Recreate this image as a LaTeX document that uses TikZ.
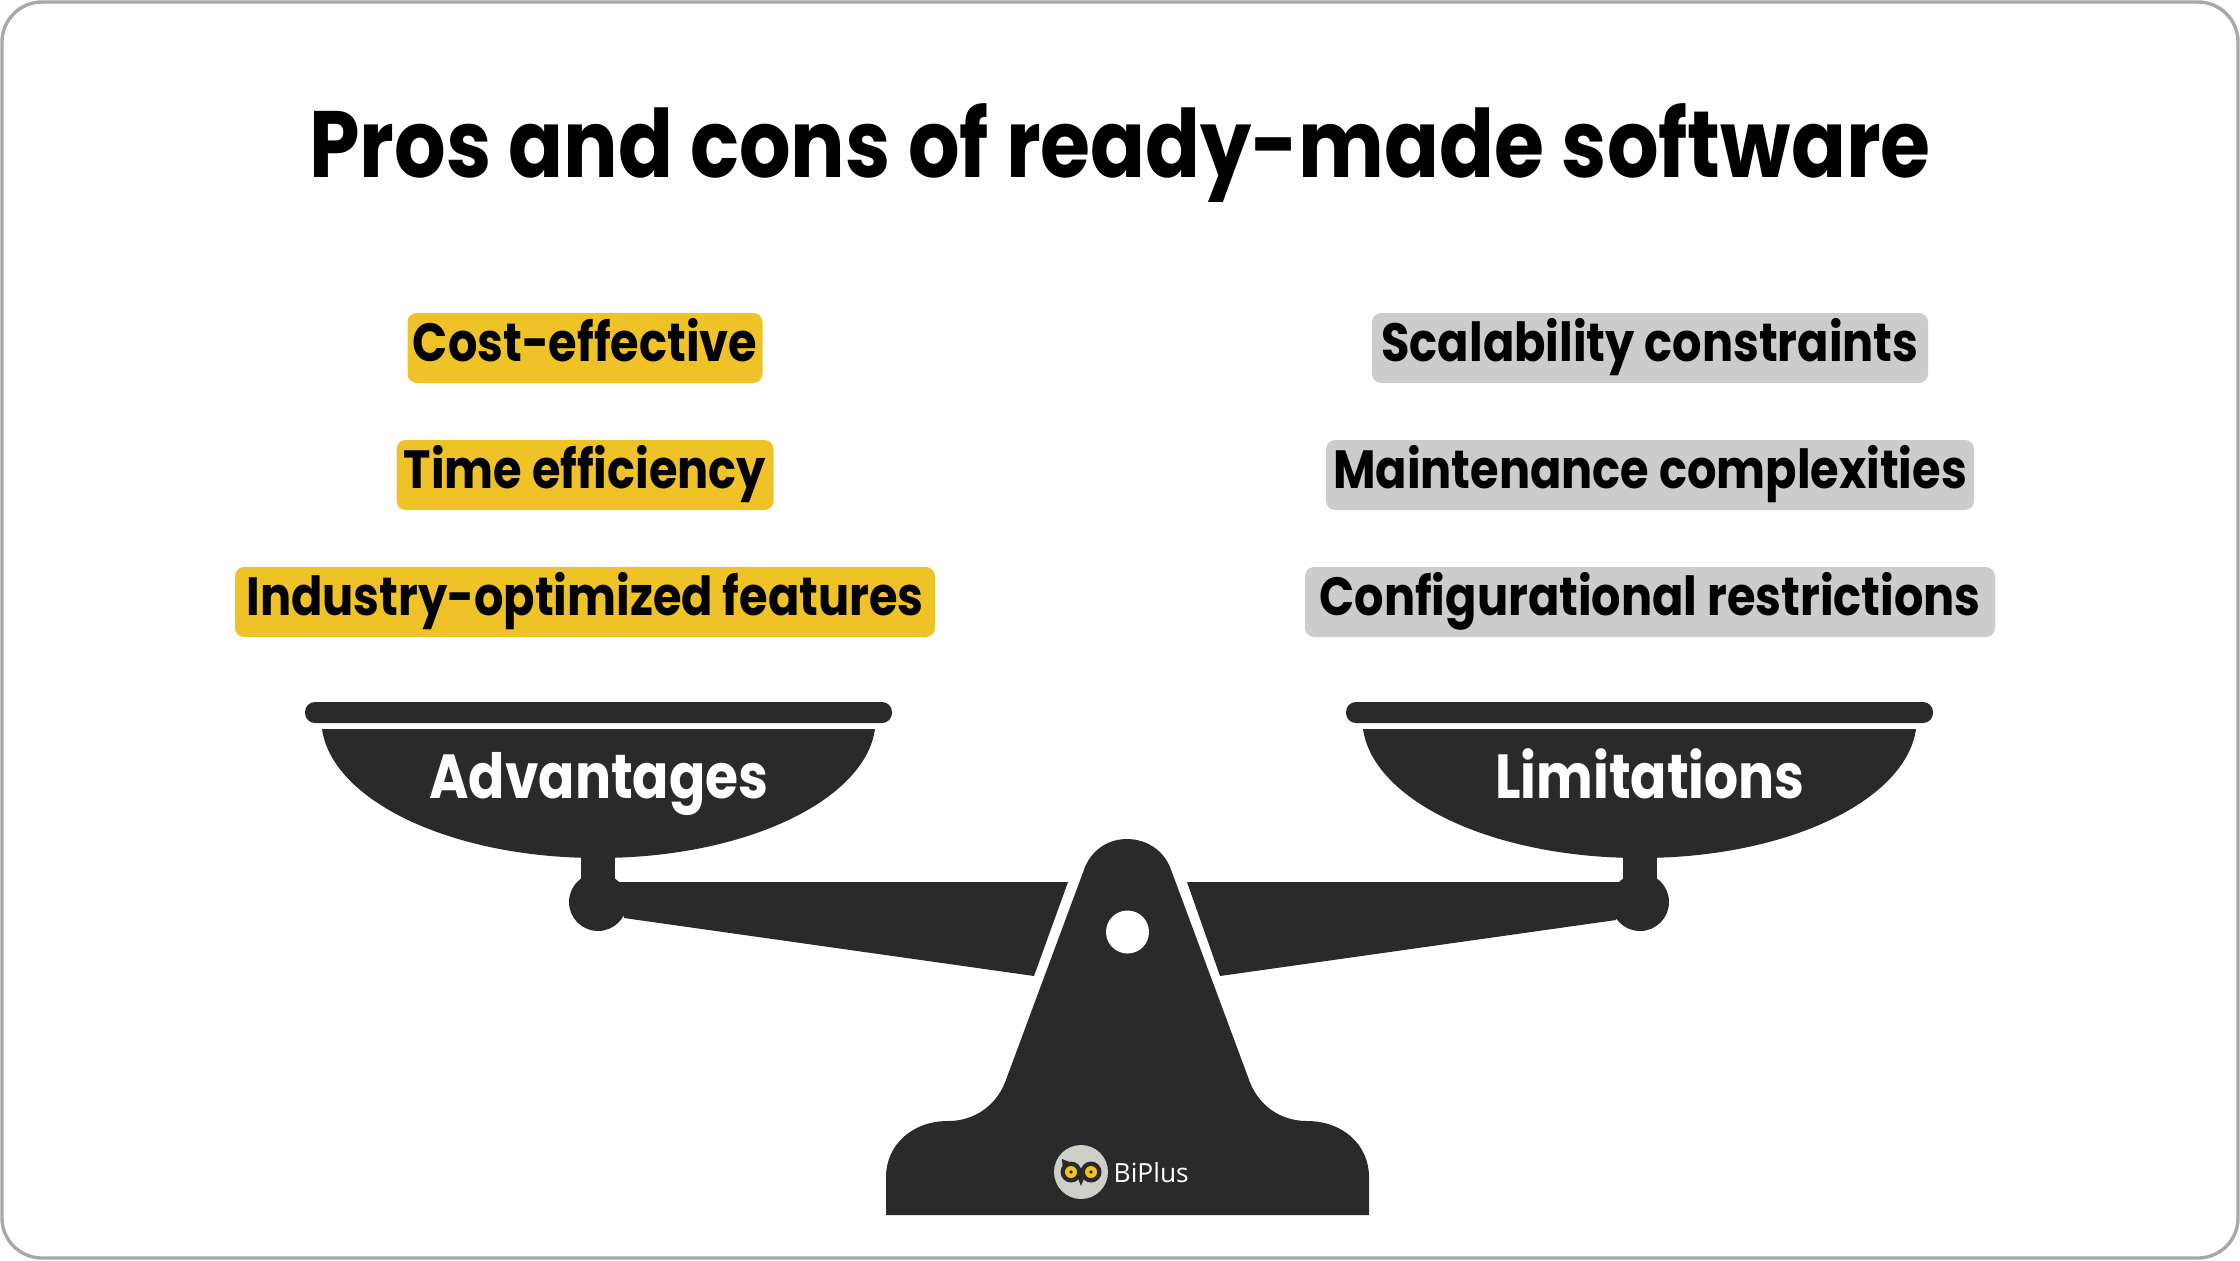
\documentclass[tikz,border=0pt]{standalone}
\usepackage{fontspec}
\newfontfamily\spart[FakeStretch=0.86]{Poppins}
\newfontfamily\logofont{Open Sans}
\definecolor{ink}{HTML}{2A2A2A}
\definecolor{goldbox}{HTML}{EFC327}
\definecolor{greybox}{HTML}{CCCCCC}
\definecolor{framegrey}{HTML}{A8A8A8}
\definecolor{logogrey}{HTML}{CFCFCA}
\tikzset{
  itemtext/.style={inner sep=0pt,rounded corners=2.6pt,text=black,align=center,
     font=\spart\bfseries\fontsize{15.3}{17}\selectfont,text height=11pt,text depth=3.4pt,minimum height=70*0.01cm},
  prosbox/.style={itemtext,fill=goldbox},
  consbox/.style={itemtext,fill=greybox},
  pantext/.style={inner sep=0pt,text=white,font=\spart\bfseries\fontsize{17.7}{19}\selectfont,text height=12pt,text depth=4pt}
}
\begin{document}
\begin{tikzpicture}[x=0.01cm,y=-0.01cm]
\useasboundingbox (0,0) rectangle (2240,1260);
\fill[white] (0,0) rectangle (2240,1260);
\draw[framegrey,line width=3.4*0.01cm,rounded corners=40*0.01cm] (2,2) rectangle (2238,1258);
% title
\node[inner sep=0pt,anchor=base,font=\spart\bfseries\fontsize{26.8}{30}\selectfont] (title) at (1120,177) {Pros and cons of ready-made software};
% items
\node[prosbox,minimum width=355*0.01cm] (p1) at (585,348) {Cost-effective};
\node[prosbox,minimum width=377*0.01cm] (p2) at (585,475) {Time efficiency};
\node[prosbox,minimum width=700*0.01cm] (p3) at (585,602) {Industry-optimized features};
\node[consbox,minimum width=556*0.01cm] (c1) at (1650,348) {Scalability constraints};
\node[consbox,minimum width=648*0.01cm] (c2) at (1650,475) {Maintenance complexities};
\node[consbox,minimum width=690*0.01cm] (c3) at (1650,602) {Configurational restrictions};
% left pan
\fill[ink,rounded corners=10*0.01cm] (305,702) rectangle (892,723);
\fill[ink] (322,729) .. controls (332,800) and (450,858) .. (598,858) .. controls (746,858) and (865,800) .. (875,729) -- cycle;
\fill[ink] (581,850) rectangle (615,885);
\fill[ink] (598,902) circle (29);
\fill[ink] (615,882) -- (1068,882) -- (1034,976) -- (624,918) -- cycle;
% right pan
\fill[ink,rounded corners=10*0.01cm] (1346,702) rectangle (1933,723);
\fill[ink] (1363,729) .. controls (1373,800) and (1491,858) .. (1640,858) .. controls (1788,858) and (1906,800) .. (1916,729) -- cycle;
\fill[ink] (1623,850) rectangle (1657,885);
\fill[ink] (1640,902) circle (29);
\fill[ink] (1625,882) -- (1187,882) -- (1220,976) -- (1616,920) -- cycle;
% stand
\fill[ink] (886,1215) -- (886,1177) .. controls (886,1145) and (912,1121) .. (948,1121)
  .. controls (975,1121) and (998,1105) .. (1007,1077) -- (1085,867)
  .. controls (1093,848) and (1110,839) .. (1127,839) .. controls (1144,839) and (1162,848) .. (1170,867)
  -- (1248,1077) .. controls (1257,1105) and (1280,1121) .. (1307,1121)
  .. controls (1343,1121) and (1369,1145) .. (1369,1177) -- (1369,1215) -- cycle;
\fill[white] (1127.5,932) circle (21.5);
% pan labels
\node[pantext] (adv) at (599,784) {Advantages};
\node[pantext] (lim) at (1650,784) {Limitations};
% logo
\fill[logogrey] (1081,1172) circle (27);
\fill[ink] (1071,1172) circle (10.5);
\fill[ink] (1091,1172) circle (10.5);
\fill[ink] (1062,1159) -- (1072,1163) -- (1063,1172) -- cycle;
\fill[ink] (1077,1176) -- (1085,1176) -- (1081,1186) -- cycle;
\fill[goldbox] (1071,1172) circle (6);
\fill[goldbox] (1091,1172) circle (6);
\fill[ink] (1071,1172) circle (1.8);
\fill[ink] (1091,1172) circle (1.8);
\node[inner sep=0pt,anchor=base west,text=white,font=\logofont\fontsize{7.5}{9}\selectfont] (logo) at (1113,1182) {BiPlus};
\end{tikzpicture}
\end{document}
